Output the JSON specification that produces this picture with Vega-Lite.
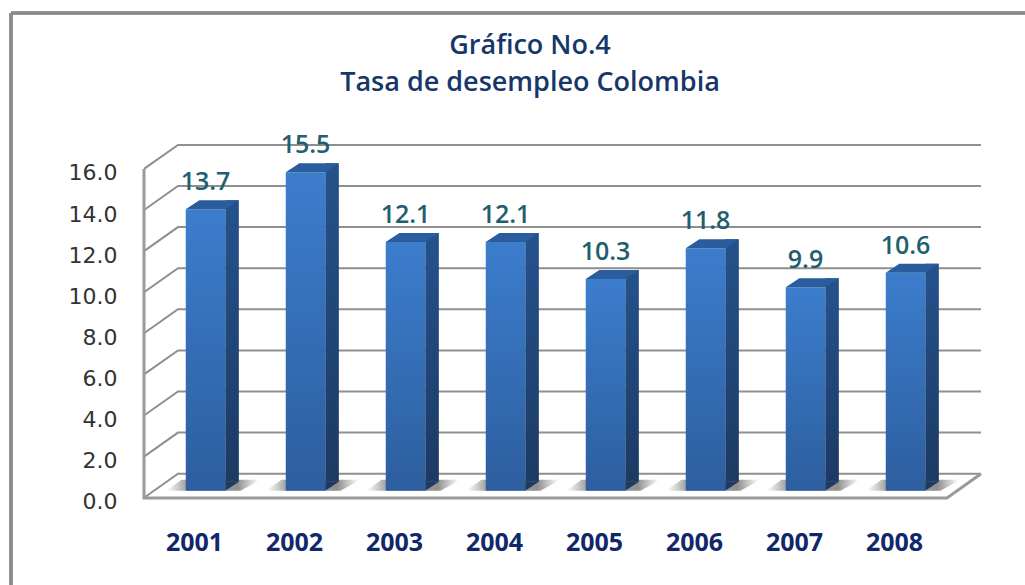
{
"$schema":"https://vega.github.io/schema/vega-lite/v6.json",
"width":1014,"height":572,
"autosize":"none",
"padding":{"left":11,"top":13,"right":0,"bottom":0},
"background":"white",
"view":{"stroke":null},
"title":{"text":["Gráfico No.4","Tasa de desempleo Colombia"],"anchor":"middle","frame":"group","baseline":"top","offset":-85.5,"dx":12,"lineHeight":37,"font":"Open Sans","fontSize":27,"fontWeight":600,"color":"#17376B"},
"data":{"values":[
{"year":"2001","rate":13.7},{"year":"2002","rate":15.5},{"year":"2003","rate":12.1},{"year":"2004","rate":12.1},
{"year":"2005","rate":10.3},{"year":"2006","rate":11.8},{"year":"2007","rate":9.9},{"year":"2008","rate":10.6}]},
"encoding":{
"x":{"field":"year","type":"nominal","scale":{"type":"band","range":[144.5,944.5],"paddingInner":0,"paddingOuter":0},
 "axis":{"title":null,"orient":"bottom","offset":-43,"labelPadding":0,"labelBaseline":"middle","labelOffset":-11,"labelAngle":0,"domain":false,"ticks":false,"grid":false,"labelFont":"Open Sans","labelFontSize":25,"labelFontWeight":700,"labelColor":"#10286B"}},
"y":{"field":"rate","type":"quantitative","scale":{"domain":[0,16],"range":[477.7,148.9],"nice":false,"zero":true},
 "axis":{"title":null,"offset":-106,"values":[0,2,4,6,8,10,12,14,16],"format":".1f","labelPadding":0,"labelOffset":11,"domain":false,"ticks":false,"grid":false,"labelFont":"DejaVu Sans","labelFontSize":22,"labelColor":"#333333"}}
},
"layer":[
{"data":{"values":[{"t":0},{"t":2},{"t":4},{"t":6},{"t":8},{"t":10},{"t":12},{"t":14},{"t":16}]},
 "mark":{"type":"point","shape":"M-34 24 L0 0 L803 0","size":4,"filled":false,"stroke":"#8f8f8f","strokeWidth":2,"opacity":1,"yOffset":-17},
 "encoding":{"x":{"value":167},"y":{"field":"t","type":"quantitative"}}},
{"data":{"values":[{"t":0}]},
 "mark":{"type":"point","shape":"M-34 -304.7 L-34 24.3 L769 24.3 L803 0","size":4,"filled":false,"stroke":"#9a9a9a","strokeWidth":3,"opacity":1,"yOffset":-17},
 "encoding":{"x":{"value":167},"y":{"field":"t","type":"quantitative"}}},
{"mark":{"type":"point","shape":"M-40 0 L35 0 L55 -11 L-24 -11 Z","size":4,"filled":true,"opacity":1,"strokeWidth":0,
 "fill":{"gradient":"linear","x1":0,"y1":0,"x2":1,"y2":0,"stops":[{"offset":0.02,"color":"#ffffff"},{"offset":0.22,"color":"#a0a0a0"},{"offset":0.76,"color":"#909090"},{"offset":0.98,"color":"#ffffff"}]}},
 "encoding":{"y":{"datum":0}}},
{"mark":{"type":"bar","width":13.6,"xOffset":26.55,"yOffset":-9,"y2Offset":-9,
 "fill":{"gradient":"linear","x1":0,"y1":0,"x2":0,"y2":1,"stops":[{"offset":0,"color":"#25528C"},{"offset":1,"color":"#1C3A63"}]}},
 "encoding":{"y2":{"datum":0}}},
{"mark":{"type":"point","shape":"M0 0 L13.6 -9 L0 -9 Z","size":4,"filled":true,"opacity":1,"strokeWidth":0,"xOffset":19.75,"fill":"#1C3A63"},
 "encoding":{"y":{"datum":0}}},
{"mark":{"type":"bar","width":39.5,
 "fill":{"gradient":"linear","x1":0,"y1":0,"x2":0,"y2":1,"stops":[{"offset":0,"color":"#3C7DCC"},{"offset":1,"color":"#2D5E9F"}]}},
 "encoding":{"y2":{"datum":0}}},
{"mark":{"type":"point","shape":"M-19.75 0 L19.75 0 L33.35 -9 L-6.15 -9 Z","size":4,"filled":true,"opacity":1,"strokeWidth":0,"fill":"#2A5C9E"}},
{"mark":{"type":"text","dy":-19,"baseline":"alphabetic","font":"Open Sans","fontSize":25,"fontWeight":600,"fill":"#215E6E"},
 "encoding":{"text":{"field":"rate","type":"quantitative","format":".1f"}}},
{"mark":{"type":"rule","stroke":"#8a8a8a","strokeWidth":2.5},"encoding":{"x":{"value":0},"y":{"value":0},"y2":{"value":572}}},
{"mark":{"type":"rule","stroke":"#8a8a8a","strokeWidth":2.5},"encoding":{"y":{"value":0},"x":{"value":0},"x2":{"value":1014}}}
]
}
